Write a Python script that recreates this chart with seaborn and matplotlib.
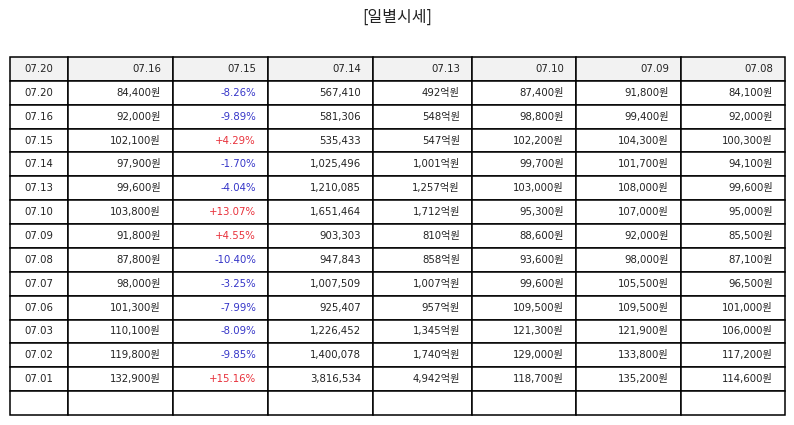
import matplotlib
matplotlib.use("Agg")
import matplotlib.pyplot as plt
from matplotlib.patches import Rectangle
import seaborn as sns

sns.set_theme(style="white")
plt.rcParams['font.family'] = ['DejaVu Sans', 'Noto Sans CJK KR']

title = "[일별시세]"
header = ["07.20", "07.16", "07.15", "07.14", "07.13", "07.10", "07.09", "07.08"]
dates = ["07.20", "07.16", "07.15", "07.14", "07.13", "07.10", "07.09",
         "07.08", "07.07", "07.06", "07.03", "07.02", "07.01"]
close = [84400, 92000, 102100, 97900, 99600, 103800, 91800,
         87800, 98000, 101300, 110100, 119800, 132900]
change = [-8.26, -9.89, 4.29, -1.70, -4.04, 13.07, 4.55,
          -10.40, -3.25, -7.99, -8.09, -9.85, 15.16]
volume = [567410, 581306, 535433, 1025496, 1210085, 1651464, 903303,
          947843, 1007509, 925407, 1226452, 1400078, 3816534]
amount = [492, 548, 547, 1001, 1257, 1712, 810,
          858, 1007, 957, 1345, 1740, 4942]
open_ = [87400, 98800, 102200, 99700, 103000, 95300, 88600,
         93600, 99600, 109500, 121300, 129000, 118700]
high = [91800, 99400, 104300, 101700, 108000, 107000, 92000,
        98000, 105500, 109500, 121900, 133800, 135200]
low = [84100, 92000, 100300, 94100, 99600, 95000, 85500,
       87100, 96500, 101000, 106000, 117200, 114600]

col_widths = [58, 105, 95, 105, 99, 104, 105, 104]
RED = "#e8313b"
BLUE = "#3535c8"
TXT = "#222222"

def won(v):
    return f"{v:,}원"

rows = []
colors = []
for i in range(len(dates)):
    rows.append([dates[i], won(close[i]), f"{change[i]:+.2f}%", f"{volume[i]:,}",
                 f"{amount[i]:,}억원", won(open_[i]), won(high[i]), won(low[i])])
    c = RED if change[i] > 0 else BLUE
    colors.append([TXT, TXT, c] + [TXT] * 5)

all_rows = [header] + rows + [[""] * len(header)]
all_colors = [[TXT] * len(header)] + colors + [[TXT] * len(header)]
nrows = len(all_rows)

fig = plt.figure(figsize=(7.94, 4.25), dpi=100)
ax = fig.add_axes([10 / 794, 10 / 425, 775 / 794, 358 / 425])
total_w = sum(col_widths)
ax.set_xlim(0, total_w)
ax.set_ylim(nrows, 0)
ax.axis("off")

xs = [0]
for w in col_widths:
    xs.append(xs[-1] + w)

for r in range(nrows):
    for c in range(len(col_widths)):
        face = "#f2f2f2" if r == 0 else "white"
        ax.add_patch(Rectangle((xs[c], r), col_widths[c], 1, facecolor=face,
                               edgecolor="black", linewidth=1.1, clip_on=False))
        txt = all_rows[r][c]
        if not txt:
            continue
        if c == 0:
            ax.text(xs[c] + col_widths[c] / 2, r + 0.5, txt, ha="center", va="center",
                    fontsize=7.3, color=all_colors[r][c])
        else:
            ax.text(xs[c + 1] - 12, r + 0.5, txt, ha="right", va="center",
                    fontsize=7.3, color=all_colors[r][c])

fig.text(397 / 794, 1 - 17 / 425, title, ha="center", va="center", fontsize=11.5,
         color=TXT, family=['Noto Sans CJK KR', 'DejaVu Sans'])

fig.savefig("out.png", dpi=100)
